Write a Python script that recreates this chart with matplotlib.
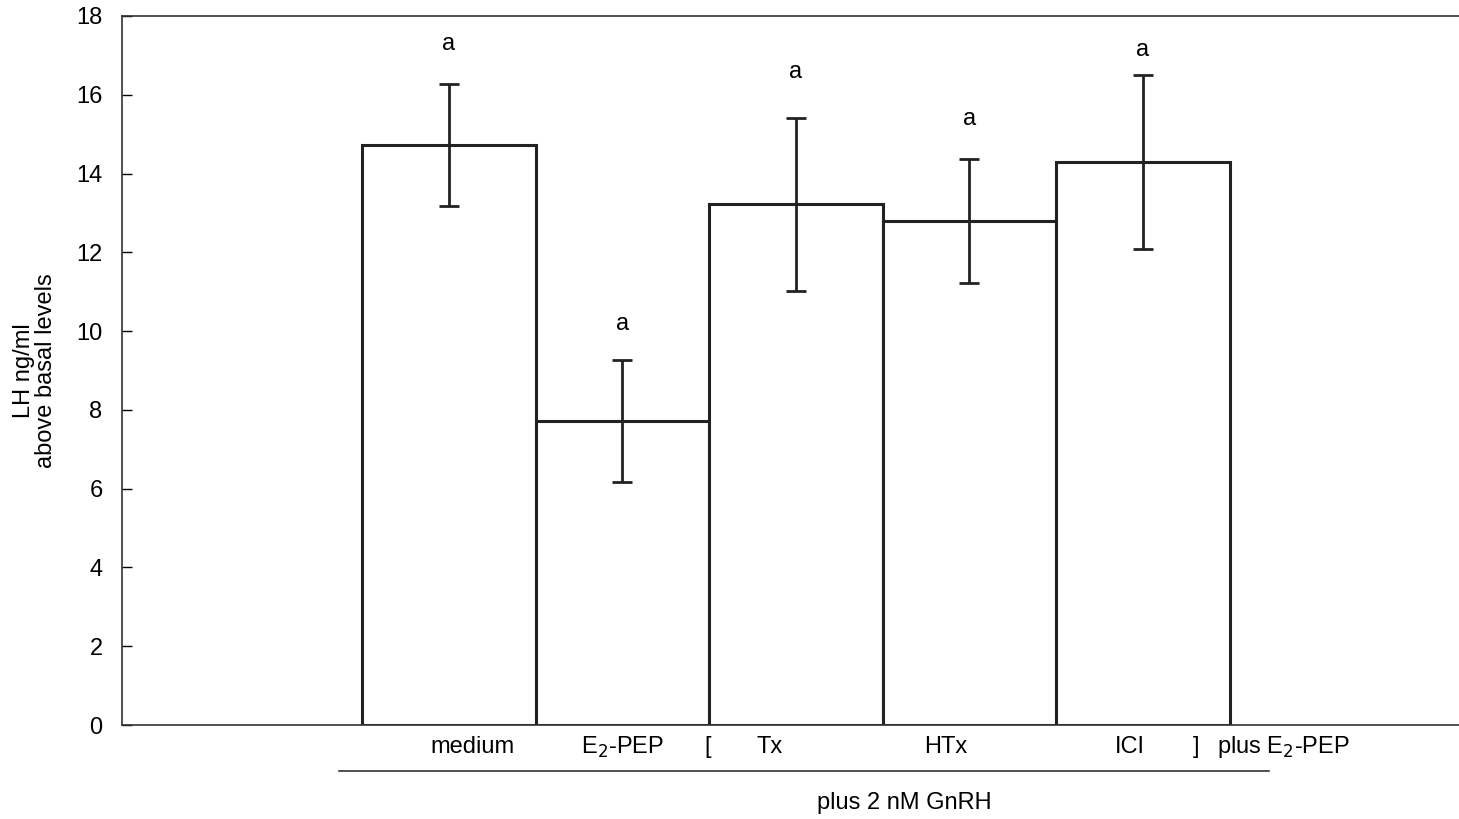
import numpy as np
import matplotlib.pyplot as plt

plt.rcParams['font.family'] = ['Liberation Sans', 'DejaVu Sans']

groups = ['medium', 'E2-PEP', 'Tx', 'HTx', 'ICI']
means = [14.72, 7.72, 13.22, 12.79, 14.29]
errs = [1.55, 1.55, 2.2, 1.57, 2.2]
sig = ['a', 'a', 'a', 'a', 'a']
sig_y = [17.0, 9.9, 16.3, 15.1, 16.85]

# under-axis labels and where they sit (data x)
xlabels = ['medium', r'E$_2$-PEP', '[', 'Tx', 'HTx', 'ICI', ']', r'plus E$_2$-PEP']
xlabel_pos = [0.134, 0.999, 1.49, 1.847, 2.862, 3.923, 4.304, 4.811]

fig = plt.figure(figsize=(14.59, 8.19), dpi=100)
ax = fig.add_axes([122 / 1459, 1 - 725 / 819, 1 - 122 / 1459 + 0.01, (725 - 16) / 819])

x = np.arange(len(groups))
ax.bar(x, means, width=1.0, color='white', edgecolor='#222222', linewidth=2.2, zorder=2)
ax.errorbar(x, means, yerr=errs, fmt='none', ecolor='#222222', elinewidth=2,
            capsize=7, capthick=2, zorder=3)
for xi, s, sy in zip(x, sig, sig_y):
    ax.text(xi, sy, s, ha='center', va='bottom', fontsize=17)

ax.set_xlim(-1.884, 5.826 + 0.08)
ax.set_ylim(0, 18)
ax.set_yticks(range(0, 19, 2))
ax.tick_params(axis='y', direction='in', length=7, width=1, labelsize=17, pad=14)
ax.set_xticks([])
for sp in ['left', 'top', 'bottom']:
    ax.spines[sp].set_linewidth(1.2)
    ax.spines[sp].set_color('#333333')
ax.spines['right'].set_visible(False)

ax.set_ylabel('LH ng/ml\nabove basal levels', fontsize=17, labelpad=14, linespacing=1.0)

trans = ax.get_xaxis_transform()
for lab, px in zip(xlabels, xlabel_pos):
    ax.text(px, -0.031, lab, transform=trans, ha='center', va='center', fontsize=17)

ax.plot([-0.636, 4.727], [-0.065, -0.065], transform=trans, color='#333333',
        linewidth=1.2, clip_on=False)
ax.text(2.626, -0.11, 'plus 2 nM GnRH', transform=trans, ha='center', va='center',
        fontsize=17)

fig.savefig('out.png', dpi=100)
